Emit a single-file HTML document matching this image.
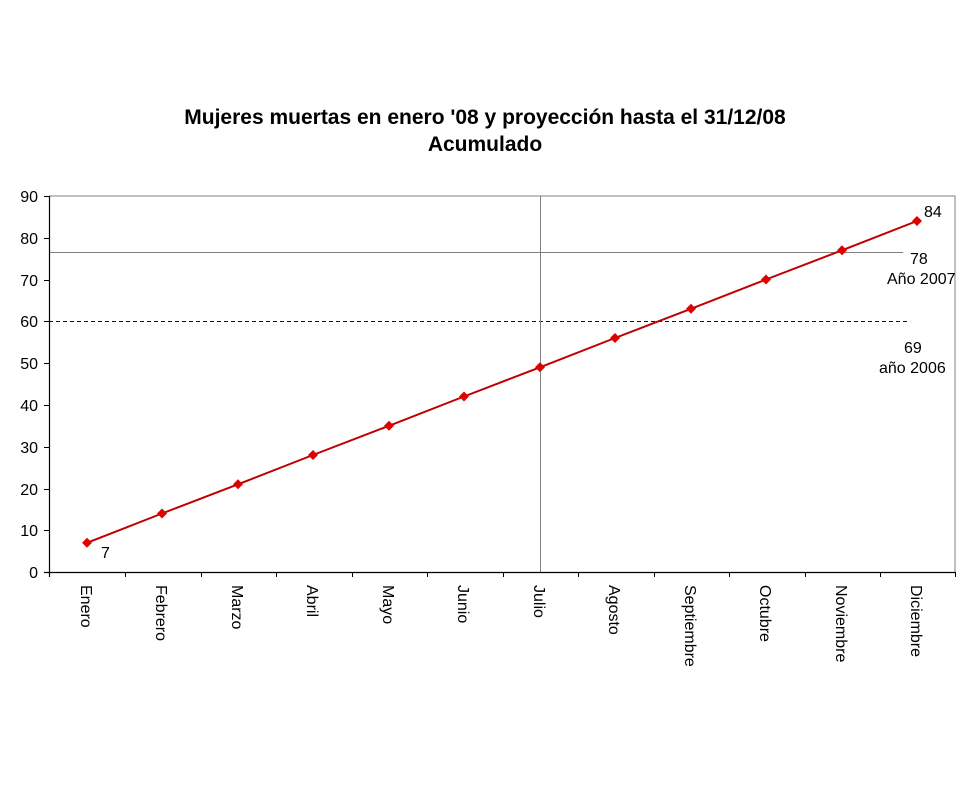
<!DOCTYPE html>
<html><head><meta charset="utf-8"><style>
html,body{margin:0;padding:0;background:#fff;}
svg{display:block;font-family:"Liberation Sans",Arial,sans-serif;}
</style></head><body>
<svg width="970" height="787" viewBox="0 0 970 787" xmlns="http://www.w3.org/2000/svg">
<rect width="970" height="787" fill="#fff"/>
<text x="485" y="124" text-anchor="middle" font-size="21" font-weight="bold">Mujeres muertas en enero '08 y proyección hasta el 31/12/08</text>
<text x="485" y="151" text-anchor="middle" font-size="21" font-weight="bold">Acumulado</text>
<polyline points="49,196 955,196 955,572" fill="none" stroke="#808080" stroke-width="1"/>
<line x1="49" y1="252.5" x2="903" y2="252.5" stroke="#808080" stroke-width="1"/>
<line x1="49" y1="321.5" x2="910" y2="321.5" stroke="#000080" stroke-width="1" stroke-dasharray="4,3"/>
<line x1="540.5" y1="196" x2="540.5" y2="572" stroke="#808080" stroke-width="1"/>
<line x1="49.5" y1="196" x2="49.5" y2="577" stroke="#000" stroke-width="1.2"/>
<line x1="44" y1="572.5" x2="955" y2="572.5" stroke="#000" stroke-width="1.2"/>
<g stroke="#000" stroke-width="1">
<line x1="44" y1="196.5" x2="49" y2="196.5"/><line x1="44" y1="238.5" x2="49" y2="238.5"/><line x1="44" y1="280.5" x2="49" y2="280.5"/><line x1="44" y1="321.5" x2="49" y2="321.5"/><line x1="44" y1="363.5" x2="49" y2="363.5"/><line x1="44" y1="405.5" x2="49" y2="405.5"/><line x1="44" y1="447.5" x2="49" y2="447.5"/><line x1="44" y1="489.5" x2="49" y2="489.5"/><line x1="44" y1="530.5" x2="49" y2="530.5"/>
<line x1="125.5" y1="572" x2="125.5" y2="577"/><line x1="201.5" y1="572" x2="201.5" y2="577"/><line x1="276.5" y1="572" x2="276.5" y2="577"/><line x1="352.5" y1="572" x2="352.5" y2="577"/><line x1="427.5" y1="572" x2="427.5" y2="577"/><line x1="503.5" y1="572" x2="503.5" y2="577"/><line x1="578.5" y1="572" x2="578.5" y2="577"/><line x1="654.5" y1="572" x2="654.5" y2="577"/><line x1="729.5" y1="572" x2="729.5" y2="577"/><line x1="805.5" y1="572" x2="805.5" y2="577"/><line x1="880.5" y1="572" x2="880.5" y2="577"/><line x1="955.5" y1="572" x2="955.5" y2="577"/>
</g>
<g font-size="16" text-anchor="end" fill="#000">
<text x="38" y="202">90</text><text x="38" y="244">80</text><text x="38" y="286">70</text><text x="38" y="327">60</text><text x="38" y="369">50</text><text x="38" y="411">40</text><text x="38" y="453">30</text><text x="38" y="495">20</text><text x="38" y="536">10</text><text x="38" y="578">0</text>
</g>
<g font-size="16" fill="#000">
<text transform="translate(81,585) rotate(90)">Enero</text>
<text transform="translate(156,585) rotate(90)">Febrero</text>
<text transform="translate(232,585) rotate(90)">Marzo</text>
<text transform="translate(307,585) rotate(90)">Abril</text>
<text transform="translate(383,585) rotate(90)">Mayo</text>
<text transform="translate(458,585) rotate(90)">Junio</text>
<text transform="translate(534,585) rotate(90)">Julio</text>
<text transform="translate(609,585) rotate(90)">Agosto</text>
<text transform="translate(685,585) rotate(90)">Septiembre</text>
<text transform="translate(760,585) rotate(90)">Octubre</text>
<text transform="translate(836,585) rotate(90)">Noviembre</text>
<text transform="translate(911,585) rotate(90)">Diciembre</text>
</g>
<polyline points="87,542.8 162,513.5 238,484.3 313,455.0 389,425.8 464,396.5 540,367.3 615,338.0 691,308.8 766,279.5 842,250.3 917,221.0" fill="none" stroke="#c00000" stroke-width="2"/>
<g fill="#e00000">
<path d="M87,537.8l5,5l-5,5l-5,-5z"/><path d="M162,508.5l5,5l-5,5l-5,-5z"/><path d="M238,479.3l5,5l-5,5l-5,-5z"/><path d="M313,450l5,5l-5,5l-5,-5z"/><path d="M389,420.8l5,5l-5,5l-5,-5z"/><path d="M464,391.5l5,5l-5,5l-5,-5z"/><path d="M540,362.3l5,5l-5,5l-5,-5z"/><path d="M615,333l5,5l-5,5l-5,-5z"/><path d="M691,303.8l5,5l-5,5l-5,-5z"/><path d="M766,274.5l5,5l-5,5l-5,-5z"/><path d="M842,245.3l5,5l-5,5l-5,-5z"/><path d="M917,216l5,5l-5,5l-5,-5z"/>
</g>
<g font-size="16" fill="#000">
<text x="101" y="558">7</text>
<text x="924" y="217">84</text>
<text x="910" y="264">78</text>
<text x="887" y="284">Año 2007</text>
<text x="904" y="353">69</text>
<text x="879" y="373">año 2006</text>
</g>
</svg>
</body></html>
